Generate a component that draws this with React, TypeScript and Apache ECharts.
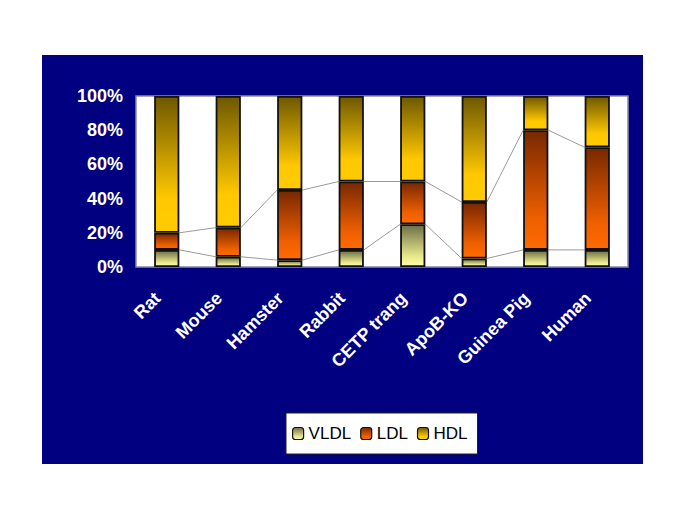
import React, { useEffect, useRef } from "react";
import * as echarts from "echarts";

const categories = ["Rat", "Mouse", "Hamster", "Rabbit", "CETP trang", "ApoB-KO", "Guinea Pig", "Human"];
const vldl = [10, 6, 4, 10, 25, 5, 10, 10];
const ldl = [10, 17, 41, 40, 25, 33, 70, 60];
const hdl = [80, 77, 55, 50, 50, 62, 20, 30];
const yTicks = [0, 20, 40, 60, 80, 100];

const FONT = "'Liberation Sans', Arial, sans-serif";

function grad(top: string, mid: string, bottom: string) {
  return new echarts.graphic.LinearGradient(0, 0, 0, 1, [
    { offset: 0, color: top },
    { offset: 0.75, color: mid },
    { offset: 1, color: bottom },
  ]);
}

export default function App() {
  const ref = useRef<HTMLDivElement>(null);
  useEffect(() => {
    document.body.style.margin = "0";
    const chart = echarts.init(ref.current!, null, { renderer: "svg" });
    const vGrad = grad("#6e6e48", "#e6e68a", "#ffffa8");
    const lGrad = grad("#782800", "#f06000", "#ff6a00");
    const hGrad = grad("#6e5800", "#ffc800", "#ffcc00");
    const cumV = vldl.slice();
    const cumL = vldl.map((v, i) => v + ldl[i]);
    const connData = categories.slice(0, -1).map((_, i) => [i, cumV[i], cumV[i + 1], cumL[i], cumL[i + 1]]);
    const barItem = { borderColor: "#111", borderWidth: 1.8 };
    chart.setOption({
      animation: false,
      backgroundColor: "#ffffff",
      graphic: [
        { type: "rect", left: 42, top: 55, shape: { width: 601, height: 409 }, style: { fill: "#000080" }, z: -10 },
      ],
      grid: {
        left: 136, top: 96, width: 492, height: 171,
        show: true, backgroundColor: "#ffffff", borderColor: "#8a8aa0", borderWidth: 1.5,
      },
      legend: {
        left: 286, top: 413, width: 188,
        backgroundColor: "#ffffff", borderColor: "#222", borderWidth: 1,
        padding: [12, 10, 12, 6], itemGap: 9, itemWidth: 11, itemHeight: 12,
        textStyle: { color: "#000", fontFamily: FONT, fontSize: 17 },
        data: [
          { name: "VLDL", itemStyle: { color: vGrad, borderColor: "#111", borderWidth: 1.2 } },
          { name: "LDL", itemStyle: { color: lGrad, borderColor: "#111", borderWidth: 1.2 } },
          { name: "HDL", itemStyle: { color: hGrad, borderColor: "#111", borderWidth: 1.2 } },
        ],
      },
      xAxis: {
        type: "category", data: categories,
        axisLine: { show: false }, axisTick: { show: false },
        axisLabel: {
          rotate: 45, color: "#fff", fontWeight: "bold", fontFamily: FONT, fontSize: 18,
          margin: 19, padding: [0, 13, 0, 0], interval: 0,
        },
      },
      yAxis: {
        type: "value", min: 0, max: 100, interval: 20,
        splitLine: { show: false }, axisLine: { show: false }, axisTick: { show: false },
        axisLabel: {
          color: "#fff", fontWeight: "bold", fontFamily: FONT, fontSize: 18, margin: 13,
          formatter: (v: number) => (yTicks.includes(v) ? v + "%" : ""),
        },
      },
      series: [
        { name: "VLDL", type: "bar", stack: "a", data: vldl, barWidth: "41%", itemStyle: { ...barItem, color: vGrad } },
        { name: "LDL", type: "bar", stack: "a", data: ldl, barWidth: "41%", itemStyle: { ...barItem, color: lGrad } },
        { name: "HDL", type: "bar", stack: "a", data: hdl, barWidth: "41%", itemStyle: { ...barItem, color: hGrad } },
        {
          type: "custom", data: connData, z: 1, silent: true,
          renderItem: (params: any, api: any) => {
            const i = api.value(0);
            const half = (api.size([1, 0])[0] * 0.41) / 2;
            const a1 = api.coord([i, api.value(1)]);
            const a2 = api.coord([i + 1, api.value(2)]);
            const b1 = api.coord([i, api.value(3)]);
            const b2 = api.coord([i + 1, api.value(4)]);
            const st = { stroke: "#9a9a9a", lineWidth: 1 };
            return {
              type: "group",
              children: [
                { type: "line", shape: { x1: a1[0] + half, y1: a1[1], x2: a2[0] - half, y2: a2[1] }, style: st },
                { type: "line", shape: { x1: b1[0] + half, y1: b1[1], x2: b2[0] - half, y2: b2[1] }, style: st },
              ],
            };
          },
        },
      ],
    });
    return () => chart.dispose();
  }, []);
  return <div ref={ref} style={{ width: 685, height: 513 }} />;
}
